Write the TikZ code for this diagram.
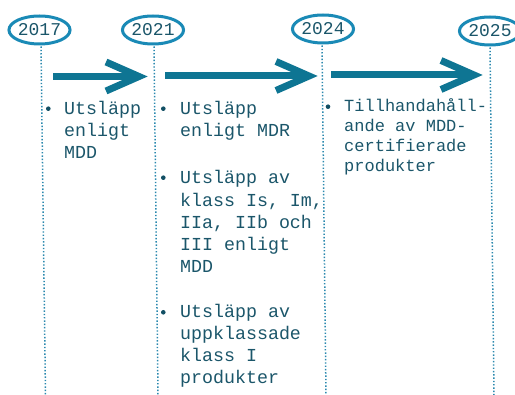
\documentclass[tikz,border=0pt]{standalone}
\usepackage{fontspec}
\usetikzlibrary{shapes.geometric,calc}
\newfontfamily\mono{Liberation Mono}
\definecolor{txt}{HTML}{1B566A}
\definecolor{ring}{HTML}{1A8AB6}
\definecolor{arr}{HTML}{0E7593}
\definecolor{dotline}{HTML}{2A88AE}
\definecolor{bul}{HTML}{124F64}
% left-aligned stack of lines whose baseline is that of the first line
\newcommand\linestack[1]{\begin{tabular}[t]{@{}l@{}}#1\end{tabular}}
\begin{document}
\begin{tikzpicture}[x=1pt,y=-1pt,
  year/.style={ellipse, draw=ring, line width=3pt, fill=white,
    minimum width=58pt, minimum height=28pt, inner sep=0pt,
    text=txt, font=\mono\fontsize{18}{20}\selectfont},
  guide/.style={draw=dotline, line width=1.5pt, dash pattern=on 1.4pt off 1.9pt},
  shaft/.style={draw=arr, line width=7pt},
  chevron/.style={draw=arr, line width=7pt, line join=miter},
  bulletdot/.style={circle, fill=bul, inner sep=0pt, minimum size=4.6pt},
  item/.style={anchor=base west, inner sep=0pt, text=txt,
    font=\mono\fontsize{18.3}{21.7}\selectfont},
  smallitem/.style={item, font=\mono\fontsize{17}{20}\selectfont}
]
\useasboundingbox (0,0) rectangle (515,395);
\clip (0,0) rectangle (515,395);

% lower ends of the dotted guides
\coordinate (g1) at (45.5,395);
\coordinate (g2) at (158,395);
\coordinate (g3) at (326,395);
\coordinate (g4) at (494,395);

% year ovals
\node[year] (y2017) at (39.5,30) {2017};
\node[year] (y2021) at (153,30) {2021};
\node[year] (y2024) at (323,29) {2024};
\node[year] (y2025) at (490,31) {2025};

% dotted guides below each year
\draw[guide] (y2017.south) ++(1.5,1) -- (g1);
\draw[guide] (y2021.south) ++(1,1) -- (g2);
\draw[guide] (y2024.south) ++(-1,1) -- (g3);
\draw[guide] (y2025.south) ++(0,1) -- (g4);

% arrows between the years
\coordinate (a1s) at (53,76.5);  \coordinate (a1t) at (139,76.5);
\coordinate (a2s) at (165,76);   \coordinate (a2t) at (309,76);
\coordinate (a3s) at (331,75);   \coordinate (a3t) at (474,75);
\foreach \s/\t in {a1s/a1t, a2s/a2t, a3s/a3t}{
  \draw[shaft] (\s) -- (\t);
  \draw[chevron] ($(\t)+(-33,-14.5)$) -- (\t) -- ($(\t)+(-33,14.5)$);
}

% 2017 column
\node[bulletdot] (b1) at (48.3,108.7) {};
\node[item] (t1) at (64,115) {\linestack{Utsläpp\\enligt\\MDD}};

% 2021 column
\node[bulletdot] (b2) at (163.3,108.7) {};
\node[item] (t2) at (180,115) {\linestack{Utsläpp\\enligt MDR}};
\node[bulletdot] (b3) at (163.3,177.7) {};
\node[item, font=\mono\fontsize{18.3}{22.2}\selectfont] (t3) at (180,184)
  {\linestack{Utsläpp av\\klass Is, Im,\\IIa, IIb och\\III enligt\\MDD}};
\node[bulletdot] (b4) at (163.3,312.3) {};
\node[item] (t4) at (180,318)
  {\linestack{Utsläpp av\\uppklassade\\klass I\\produkter}};

% 2024 column
\node[bulletdot] (b5) at (328,106.7) {};
\node[smallitem] (t5) at (344,111.7)
  {\linestack{Tillhandahåll-\\ande av MDD-\\certifierade\\produkter}};
\end{tikzpicture}
\end{document}
